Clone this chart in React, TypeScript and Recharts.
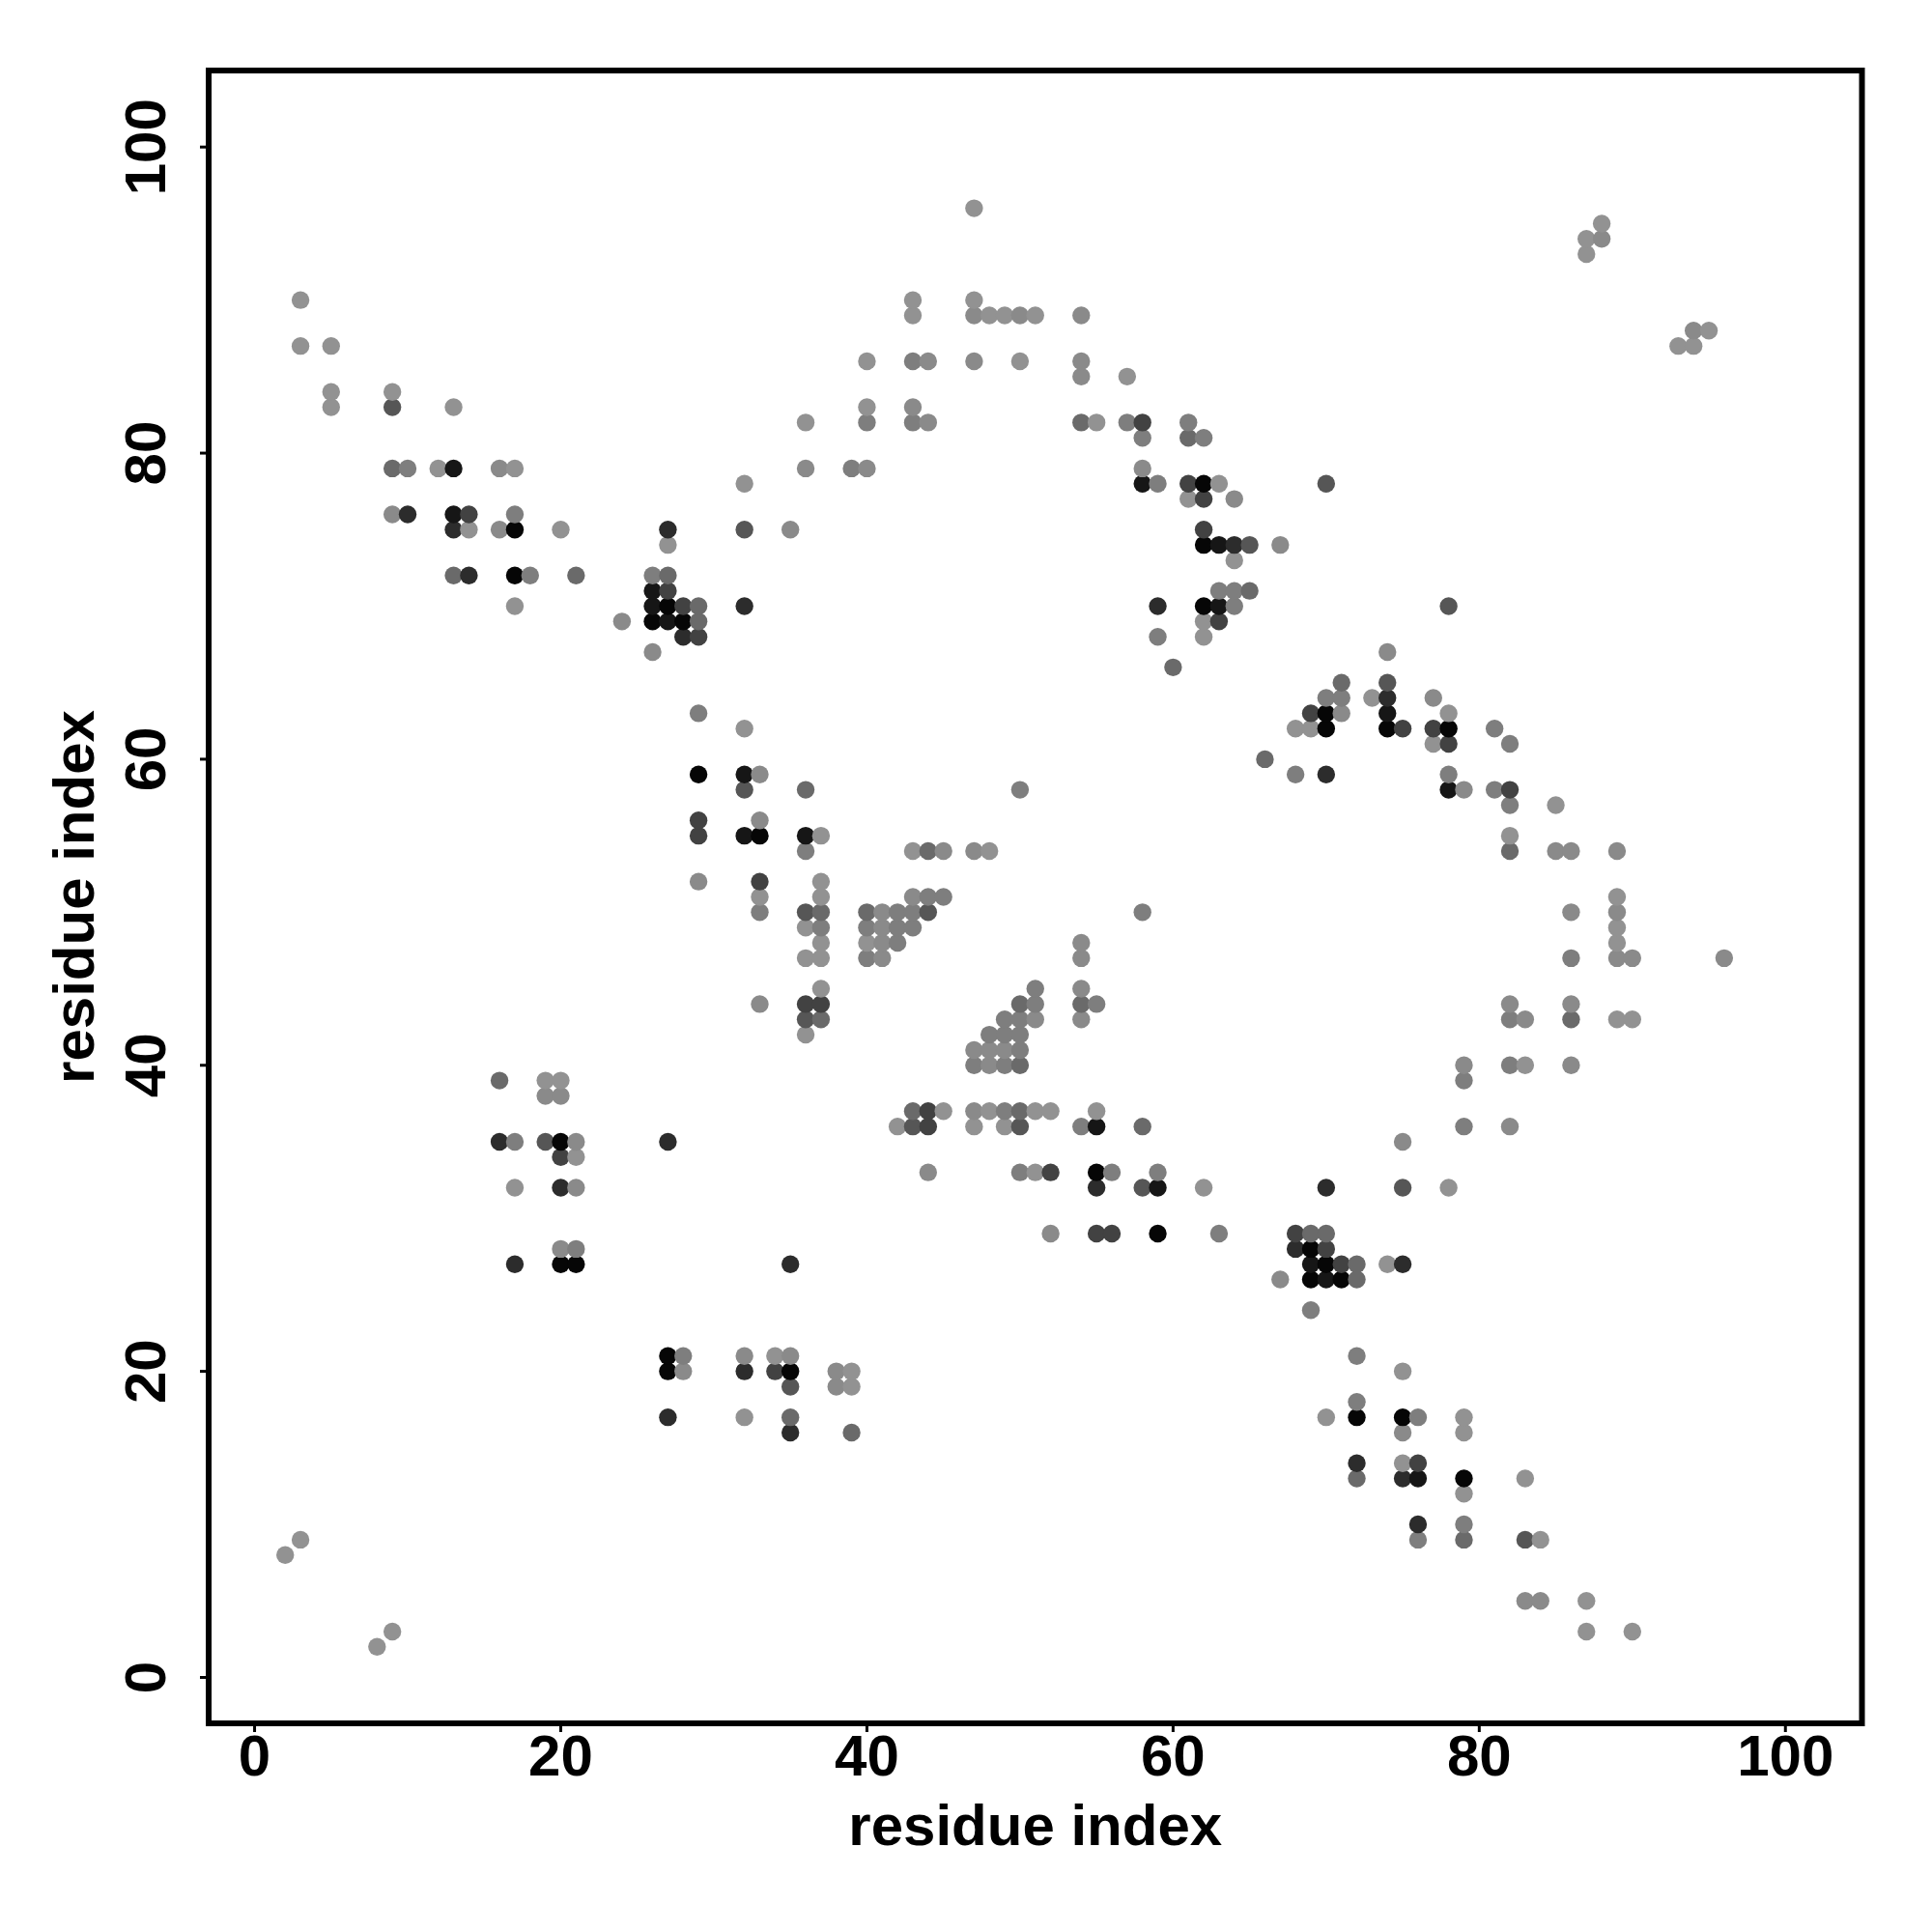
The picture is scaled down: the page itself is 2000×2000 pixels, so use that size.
import { Cell, ReferenceArea, Scatter, ScatterChart, XAxis, YAxis } from "recharts"

const axisTicks = [0, 20, 40, 60, 80, 100]
const axisDomain = [-3, 105]
const fontFamily = '"Liberation Sans", Arial, sans-serif'

// contacts grouped by how dark the dot is, [x, y]
const shade8e = [[3,90],[3,87],[5,87],[5,84],[5,83],[9,84],[13,83],[12,79],[17,79],[32,78],[14,75],[20,75],[27,74],[17,70],
  [47,96],[43,90],[47,90],[43,89],[48,89],[49,89],[51,89],[40,86],[50,86],[57,85],[40,83],[36,82],[55,82],[63,78],[61,77],[64,73],[62,69],[62,68],
  [88,95],[87,94],[87,93],[95,88],[93,87],[94,87],
  [73,64],[78,63],[68,62],[69,62],[77,61],[82,55],[85,57],[89,51],[89,49],[89,48],[89,43],[90,43],[83,40],
  [32,62],[37,55],[43,54],[48,54],[37,52],[33,51],[37,51],[36,49],[37,48],[40,48],[36,47],[37,47],[37,45],[36,42],
  [19,39],[20,39],[17,32],[21,34],[45,37],[42,36],[48,37],[51,37],[52,37],[55,37],[47,36],[49,36],[51,33],[62,32],[78,32],[74,27],[75,20],
  [34,21],[39,20],[39,19],[32,17],[70,17],[79,17],[79,16],[75,14],[83,13],[79,12],[84,9],[87,5],[87,3],[90,3],[2,8],[3,9],[8,2],[9,3]]
const shade85 = [[16,79],[9,76],[16,75],[24,69],[26,67],[47,89],[50,89],[54,89],[44,86],[47,86],[54,86],[54,85],[43,83],[44,82],[36,79],[40,79],[58,79],[64,77],[35,75],[67,74],[88,94],[94,88],
  [74,67],[77,64],[71,63],[79,58],[83,43],[54,48],[54,47],[54,45],[54,43],[82,44],[85,54],[86,54],[89,54],[86,50],[89,50],[86,44],[89,47],[90,47],[96,47],[79,40],[86,40],
  [33,59],[33,56],[45,54],[47,54],[29,52],[43,51],[41,50],[41,49],[41,48],[41,47],[33,44],[51,43],[47,41],[48,41],[49,41],[48,40],
  [19,38],[20,38],[21,35],[21,32],[20,28],[44,33],[47,37],[52,29],[67,26],[82,36],[75,35],
  [32,21],[35,21],[28,20],[38,20],[38,19],[75,16],[83,5],[84,5]]
const shade7a = [[10,79],[17,76],[18,72],[26,72],[43,86],[40,82],[43,82],[57,82],[61,82],[58,81],[62,81],[39,79],[59,78],[63,71],[64,71],[64,70],[59,68],
  [70,64],[71,64],[81,62],[82,61],[68,59],[78,59],[81,58],[82,57],[55,44],[82,43],[86,47],[79,39],[82,40],[58,50],
  [29,63],[50,58],[36,54],[44,51],[45,51],[33,50],[42,50],[43,50],[40,49],[42,49],[43,49],[37,49],[42,48],[40,47],[51,45],[51,44],[49,43],[50,43],[48,42],[49,42],[50,42],[50,41],[47,40],[49,40],
  [17,35],[21,28],[49,37],[50,33],[54,36],[56,33],[59,33],[63,29],[79,36],[69,24],[72,21],[28,21],[72,18],[76,17],[79,10],[76,9]]
const shade68 = [[9,79],[13,72],[21,72],[27,72],[29,70],[29,69],[54,82],[61,81],[65,71],[60,66],[71,65],[66,60],[82,54],[54,44],[86,43],
  [36,58],[44,54],[37,50],[40,50],[37,43],[50,44],[50,40],[16,39],[43,37],[50,37],[58,36],[69,29],[70,29],[72,27],[72,26],[35,17],[39,16],[72,13],[79,9]]
const shade55 = [[9,83],[32,75],[70,78],[65,74],[78,70],[74,65],[32,58],[44,50],[36,50],[36,43],[43,36],[50,36],[19,35],[58,32],[75,32],[35,19],[83,9]]
const shade42 = [[14,76],[27,71],[28,70],[29,68],[58,82],[61,78],[62,77],[62,75],[63,69],[69,63],[75,62],[77,62],[78,61],[82,58],
  [29,56],[29,55],[33,52],[36,44],[37,44],[44,37],[44,36],[20,34],[52,33],[55,29],[56,29],[68,29],[70,28],[71,27],[34,20],[76,14]]
const shade2c = [[10,76],[13,75],[27,75],[14,72],[32,70],[28,68],[64,74],[59,70],[74,64],[70,59],[16,35],[27,35],[20,32],[17,27],[35,27],[55,32],[70,32],[68,28],[75,27],[32,20],[27,17],[35,16],[72,14],[75,13],[76,10]]
const shade16 = [[13,79],[13,76],[26,71],[26,70],[27,69],[58,78],[63,74],[63,70],[74,63],[78,58],[32,59],[32,55],[36,55],[55,36],[59,32],[69,27],[70,26],[76,13]]
const shade06 = [[17,75],[17,72],[27,70],[26,69],[28,69],[62,78],[62,74],[62,70],[70,63],[70,62],[74,62],[78,62],[29,59],[33,55],[20,35],[20,27],[21,27],[55,33],[59,29],[69,28],[70,27],[69,26],[71,26],[27,21],[27,20],[35,20],[72,17],[75,17],[79,13]]

const groups: [string, number[][]][] = [
  ["#929292", shade8e],
  ["#8a8a8a", shade85],
  ["#7e7e7e", shade7a],
  ["#6a6a6a", shade68],
  ["#565656", shade55],
  ["#424242", shade42],
  ["#2c2c2c", shade2c],
  ["#161616", shade16],
  ["#060606", shade06],
]

// the original draws left to right, bottom to top, so overlaps come out the same
const points = groups
  .flatMap(([fill, pts]) => pts.map(([x, y]) => ({ x, y, fill })))
  .sort((a, b) => a.x - b.x || a.y - b.y)

const labelStyle = { fontFamily, fontSize: 60, fontWeight: 700, fill: "#000" }

const YTick = ({ x, y, payload }: any) => (
  <text
    x={x - 34}
    y={y}
    transform={`rotate(-90 ${x - 34} ${y})`}
    textAnchor="middle"
    style={labelStyle}
  >
    {payload.value}
  </text>
)

const Dot = ({ cx, cy, fill }: any) => <circle cx={cx} cy={cy} r={9.2} fill={fill} />

const App = () => {
  return (
    <div style={{ position: "absolute", left: 0, top: 0, width: 2000, height: 2000, background: "#fff" }}>
      <ScatterChart width={2000} height={2000} margin={{ top: 73, right: 72.5, bottom: 0, left: 0 }}>
        <XAxis
          type="number"
          dataKey="x"
          domain={axisDomain}
          ticks={axisTicks}
          allowDataOverflow
          height={216}
          axisLine={false}
          tickLine={{ stroke: "#000", strokeWidth: 3 }}
          tickSize={9}
          tickMargin={2}
          tick={labelStyle}
          label={{ value: "residue index", position: "insideBottom", offset: 90, style: labelStyle }}
        />
        <YAxis
          type="number"
          dataKey="y"
          domain={axisDomain}
          ticks={axisTicks}
          allowDataOverflow
          width={216}
          axisLine={false}
          tickLine={{ stroke: "#000", strokeWidth: 3 }}
          tickSize={9}
          tick={<YTick />}
          label={{ value: "residue index", angle: -90, position: "insideLeft", offset: 76, style: { ...labelStyle, textAnchor: "middle" } }}
        />
        <ReferenceArea x1={-3} x2={105} y1={-3} y2={105} fill="none" fillOpacity={0} stroke="#000" strokeWidth={6} strokeOpacity={1} />
        <Scatter data={points} isAnimationActive={false} shape={<Dot />}>
          {points.map((p, i) => (
            <Cell key={i} fill={p.fill} />
          ))}
        </Scatter>
      </ScatterChart>
    </div>
  )
}

export default App
